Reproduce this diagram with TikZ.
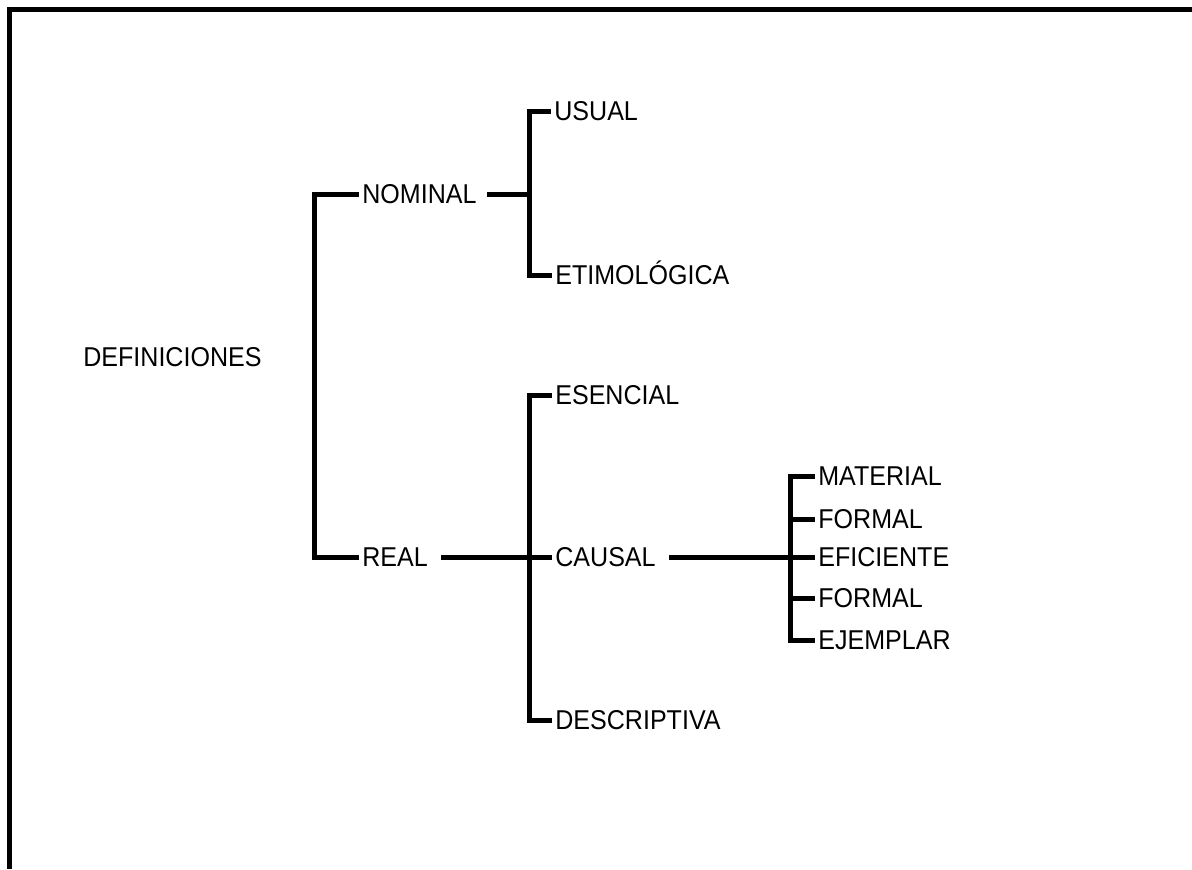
\documentclass[tikz,border=0pt]{standalone}
\usepackage{fontspec}
\setmainfont{Liberation Sans}[FakeStretch=0.92]
\usetikzlibrary{positioning}

\tikzset{
  lbl/.style={anchor=west, inner xsep=0.06cm, inner ysep=0pt,
    text height=11.1pt, text depth=0pt, font=\fontsize{15.5}{18}\selectfont},
  branch/.style={line width=0.1cm, line join=miter},
  frame/.style={line width=0.1cm, line join=miter},
}

\begin{document}
\begin{tikzpicture}[x=0.02cm, y=-0.02cm]
  \useasboundingbox (0,0) rectangle (1192,869);
  \draw[frame] (1192,9.5) -- (9.5,9.5) -- (9.5,869);

  \node[lbl] (defs) at (80,357) {DEFINICIONES};
  \node[lbl] (nominal) at (359,194) {NOMINAL};
  \node[lbl] (real) at (359,557) {REAL};

  \node[lbl] (usual) at (551,111) {USUAL};
  \node[lbl] (etimo) at (552,275) {ETIMOLÓGICA};
  \node[lbl] (esencial) at (552,395) {ESENCIAL};
  \node[lbl] (causal) at (552,557) {CAUSAL};
  \node[lbl] (descrip) at (552,720) {DESCRIPTIVA};

  \node[lbl] (material) at (815,476) {MATERIAL};
  \node[lbl] (formala) at (815,519) {FORMAL};
  \node[lbl] (eficiente) at (815,557) {EFICIENTE};
  \node[lbl] (formalb) at (815,598) {FORMAL};
  \node[lbl] (ejemplar) at (815,640) {EJEMPLAR};

  \coordinate (mainfork) at (314,357);
  \coordinate (nomfork) at (529,194);
  \coordinate (realfork) at (529,557);
  \coordinate (causafork) at (790,557);

  \draw[branch] (nominal.west) -| (mainfork) |- (real.west);

  \draw[branch] ([xshift=0.14cm]nominal.east) -- (nomfork);
  \draw[branch] (usual.west) -| (nomfork) |- (etimo.west);

  \draw[branch] ([xshift=0.2cm]real.east) -- (realfork) -- (causal.west);
  \draw[branch] (esencial.west) -| (realfork) |- (descrip.west);

  \draw[branch] ([xshift=0.2cm]causal.east) -- (causafork) -- (eficiente.west);
  \draw[branch] (material.west) -| (causafork) |- (ejemplar.west);
  \draw[branch] (formala.west) -- (formala.west -| causafork);
  \draw[branch] (formalb.west) -- (formalb.west -| causafork);
\end{tikzpicture}
\end{document}
